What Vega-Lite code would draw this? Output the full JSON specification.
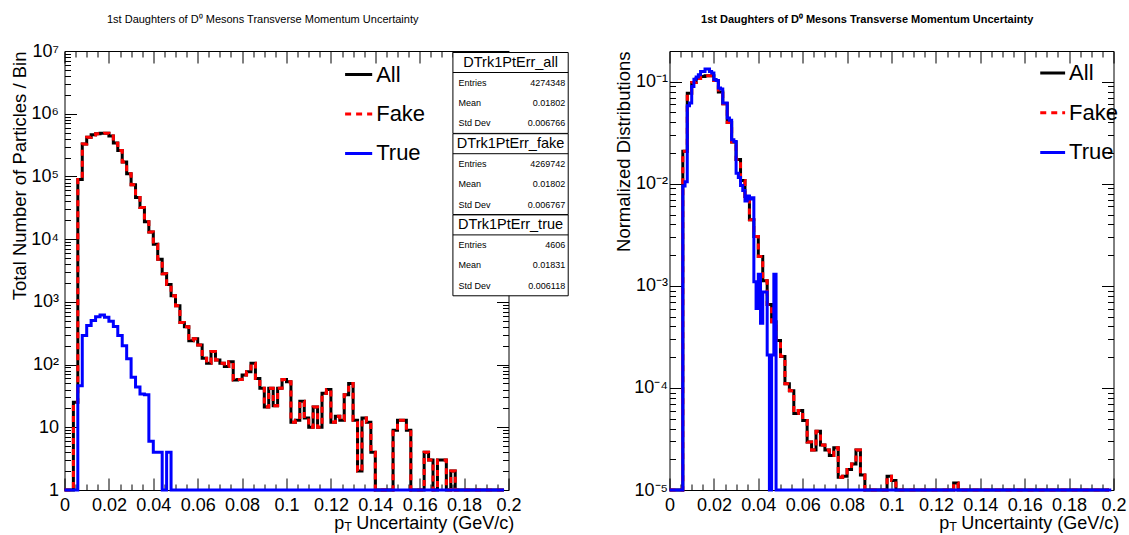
{
  "$schema": "https://vega.github.io/schema/vega-lite/v6.json",
  "background": "white",
  "padding": {"left": 10.5, "top": 14, "right": 4, "bottom": 1},
  "spacing": 161,
  "bounds": "flush",
  "config": {
    "font": "Liberation Sans",
    "view": {"stroke": null},
    "text": {"font": "Liberation Sans", "color": "black"},
    "axis": {
      "grid": false, "domainColor": "black", "domainWidth": 1, "tickColor": "black", "tickWidth": 1,
      "labelFont": "Liberation Sans", "labelFontSize": 18, "labelColor": "black",
      "titleFont": "Liberation Sans", "titleFontSize": 18.5, "titleFontWeight": "normal", "titleColor": "black",
      "labelOverlap": false, "labelFlush": false
    }
  },
  "datasets": {
    "counts": [
      {"pt":0,"n_all":0,"n_fake":0,"n_true":0},
      {"pt":0.002,"n_all":0,"n_fake":0,"n_true":0},
      {"pt":0.004,"n_all":25,"n_fake":25,"n_true":0},
      {"pt":0.006,"n_all":89000,"n_fake":88954,"n_true":46},
      {"pt":0.008,"n_all":330000,"n_fake":329710,"n_true":290},
      {"pt":0.01,"n_all":420000,"n_fake":419580,"n_true":420},
      {"pt":0.012,"n_all":460000,"n_fake":459495,"n_true":505},
      {"pt":0.014,"n_all":480000,"n_fake":479420,"n_true":580},
      {"pt":0.016,"n_all":490000,"n_fake":489380,"n_true":620},
      {"pt":0.018,"n_all":490000,"n_fake":489430,"n_true":570},
      {"pt":0.02,"n_all":440000,"n_fake":439510,"n_true":490},
      {"pt":0.022,"n_all":340000,"n_fake":339595,"n_true":405},
      {"pt":0.024,"n_all":260000,"n_fake":259710,"n_true":290},
      {"pt":0.026,"n_all":170000,"n_fake":169800,"n_true":200},
      {"pt":0.028,"n_all":110000,"n_fake":109876,"n_true":124},
      {"pt":0.03,"n_all":74000,"n_fake":73937,"n_true":63},
      {"pt":0.032,"n_all":46000,"n_fake":45956,"n_true":44},
      {"pt":0.034,"n_all":32000,"n_fake":31966,"n_true":34},
      {"pt":0.036,"n_all":19000,"n_fake":18967,"n_true":33},
      {"pt":0.038,"n_all":13000,"n_fake":12994,"n_true":6},
      {"pt":0.04,"n_all":8300,"n_fake":8296,"n_true":4},
      {"pt":0.042,"n_all":4800,"n_fake":4796,"n_true":4},
      {"pt":0.044,"n_all":2800,"n_fake":2800,"n_true":0},
      {"pt":0.046,"n_all":1900,"n_fake":1896,"n_true":4},
      {"pt":0.048,"n_all":1250,"n_fake":1250,"n_true":0},
      {"pt":0.05,"n_all":870,"n_fake":870,"n_true":0},
      {"pt":0.052,"n_all":470,"n_fake":470,"n_true":0},
      {"pt":0.054,"n_all":400,"n_fake":400,"n_true":0},
      {"pt":0.056,"n_all":240,"n_fake":240,"n_true":0},
      {"pt":0.058,"n_all":257,"n_fake":257,"n_true":0},
      {"pt":0.06,"n_all":205,"n_fake":205,"n_true":0},
      {"pt":0.062,"n_all":126,"n_fake":126,"n_true":0},
      {"pt":0.064,"n_all":105,"n_fake":105,"n_true":0},
      {"pt":0.066,"n_all":161,"n_fake":161,"n_true":0},
      {"pt":0.068,"n_all":118,"n_fake":118,"n_true":0},
      {"pt":0.07,"n_all":105,"n_fake":105,"n_true":0},
      {"pt":0.072,"n_all":93,"n_fake":93,"n_true":0},
      {"pt":0.074,"n_all":111,"n_fake":111,"n_true":0},
      {"pt":0.076,"n_all":57,"n_fake":57,"n_true":0},
      {"pt":0.078,"n_all":58,"n_fake":58,"n_true":0},
      {"pt":0.08,"n_all":68,"n_fake":68,"n_true":0},
      {"pt":0.082,"n_all":77,"n_fake":77,"n_true":0},
      {"pt":0.084,"n_all":105,"n_fake":105,"n_true":0},
      {"pt":0.086,"n_all":60,"n_fake":60,"n_true":0},
      {"pt":0.088,"n_all":42,"n_fake":42,"n_true":0},
      {"pt":0.09,"n_all":21,"n_fake":21,"n_true":0},
      {"pt":0.092,"n_all":42,"n_fake":42,"n_true":0},
      {"pt":0.094,"n_all":22,"n_fake":22,"n_true":0},
      {"pt":0.096,"n_all":42,"n_fake":42,"n_true":0},
      {"pt":0.098,"n_all":58,"n_fake":58,"n_true":0},
      {"pt":0.1,"n_all":53,"n_fake":53,"n_true":0},
      {"pt":0.102,"n_all":12,"n_fake":12,"n_true":0},
      {"pt":0.104,"n_all":13,"n_fake":13,"n_true":0},
      {"pt":0.106,"n_all":26,"n_fake":26,"n_true":0},
      {"pt":0.108,"n_all":14,"n_fake":14,"n_true":0},
      {"pt":0.11,"n_all":10,"n_fake":10,"n_true":0},
      {"pt":0.112,"n_all":21,"n_fake":21,"n_true":0},
      {"pt":0.114,"n_all":10,"n_fake":10,"n_true":0},
      {"pt":0.116,"n_all":35,"n_fake":35,"n_true":0},
      {"pt":0.118,"n_all":40,"n_fake":40,"n_true":0},
      {"pt":0.12,"n_all":12,"n_fake":12,"n_true":0},
      {"pt":0.122,"n_all":15,"n_fake":15,"n_true":0},
      {"pt":0.124,"n_all":13,"n_fake":13,"n_true":0},
      {"pt":0.126,"n_all":33,"n_fake":33,"n_true":0},
      {"pt":0.128,"n_all":50,"n_fake":50,"n_true":0},
      {"pt":0.13,"n_all":13,"n_fake":13,"n_true":0},
      {"pt":0.132,"n_all":2,"n_fake":2,"n_true":0},
      {"pt":0.134,"n_all":14,"n_fake":14,"n_true":0},
      {"pt":0.136,"n_all":12,"n_fake":12,"n_true":0},
      {"pt":0.138,"n_all":4,"n_fake":4,"n_true":0},
      {"pt":0.14,"n_all":0,"n_fake":0,"n_true":0},
      {"pt":0.142,"n_all":0,"n_fake":0,"n_true":0},
      {"pt":0.144,"n_all":0,"n_fake":0,"n_true":0},
      {"pt":0.146,"n_all":0,"n_fake":0,"n_true":0},
      {"pt":0.148,"n_all":9,"n_fake":9,"n_true":0},
      {"pt":0.15,"n_all":13,"n_fake":13,"n_true":0},
      {"pt":0.152,"n_all":13,"n_fake":13,"n_true":0},
      {"pt":0.154,"n_all":9,"n_fake":9,"n_true":0},
      {"pt":0.156,"n_all":0,"n_fake":0,"n_true":0},
      {"pt":0.158,"n_all":0,"n_fake":0,"n_true":0},
      {"pt":0.16,"n_all":0,"n_fake":0,"n_true":0},
      {"pt":0.162,"n_all":4,"n_fake":4,"n_true":0},
      {"pt":0.164,"n_all":3,"n_fake":3,"n_true":0},
      {"pt":0.166,"n_all":0,"n_fake":0,"n_true":0},
      {"pt":0.168,"n_all":3,"n_fake":3,"n_true":0},
      {"pt":0.17,"n_all":3,"n_fake":3,"n_true":0},
      {"pt":0.172,"n_all":0,"n_fake":0,"n_true":0},
      {"pt":0.174,"n_all":2,"n_fake":2,"n_true":0},
      {"pt":0.176,"n_all":0,"n_fake":0,"n_true":0},
      {"pt":0.178,"n_all":0,"n_fake":0,"n_true":0},
      {"pt":0.18,"n_all":0,"n_fake":0,"n_true":0},
      {"pt":0.182,"n_all":0,"n_fake":0,"n_true":0},
      {"pt":0.184,"n_all":0,"n_fake":0,"n_true":0},
      {"pt":0.186,"n_all":0,"n_fake":0,"n_true":0},
      {"pt":0.188,"n_all":0,"n_fake":0,"n_true":0},
      {"pt":0.19,"n_all":0,"n_fake":0,"n_true":0},
      {"pt":0.192,"n_all":0,"n_fake":0,"n_true":0},
      {"pt":0.194,"n_all":0,"n_fake":0,"n_true":0},
      {"pt":0.196,"n_all":0,"n_fake":0,"n_true":0},
      {"pt":0.198,"n_all":0,"n_fake":0,"n_true":0}
    ],
    "norm": [
      {"pt":0,"f_all":0,"f_fake":0},
      {"pt":0.002,"f_all":0,"f_fake":0},
      {"pt":0.004,"f_all":5.85e-6,"f_fake":5.86e-6},
      {"pt":0.006,"f_all":0.0208,"f_fake":0.0208},
      {"pt":0.008,"f_all":0.0772,"f_fake":0.0772},
      {"pt":0.01,"f_all":0.0983,"f_fake":0.0983},
      {"pt":0.012,"f_all":0.1076,"f_fake":0.1076},
      {"pt":0.014,"f_all":0.1123,"f_fake":0.1123},
      {"pt":0.016,"f_all":0.1146,"f_fake":0.1146},
      {"pt":0.018,"f_all":0.1146,"f_fake":0.1146},
      {"pt":0.02,"f_all":0.1029,"f_fake":0.1029},
      {"pt":0.022,"f_all":0.0795,"f_fake":0.0795},
      {"pt":0.024,"f_all":0.0608,"f_fake":0.0608},
      {"pt":0.026,"f_all":0.0398,"f_fake":0.0398},
      {"pt":0.028,"f_all":0.0257,"f_fake":0.0257},
      {"pt":0.03,"f_all":0.0173,"f_fake":0.0173},
      {"pt":0.032,"f_all":0.01076,"f_fake":0.01076},
      {"pt":0.034,"f_all":0.00749,"f_fake":0.00749},
      {"pt":0.036,"f_all":0.00445,"f_fake":0.00444},
      {"pt":0.038,"f_all":0.00304,"f_fake":0.00304},
      {"pt":0.04,"f_all":0.00194,"f_fake":0.00194},
      {"pt":0.042,"f_all":0.001123,"f_fake":0.001123},
      {"pt":0.044,"f_all":0.000655,"f_fake":0.000656},
      {"pt":0.046,"f_all":0.000445,"f_fake":0.000444},
      {"pt":0.048,"f_all":0.000292,"f_fake":0.000293},
      {"pt":0.05,"f_all":0.0002035,"f_fake":0.0002038},
      {"pt":0.052,"f_all":0.00011,"f_fake":0.00011},
      {"pt":0.054,"f_all":9.36e-5,"f_fake":9.37e-5},
      {"pt":0.056,"f_all":5.61e-5,"f_fake":5.62e-5},
      {"pt":0.058,"f_all":6.01e-5,"f_fake":6.02e-5},
      {"pt":0.06,"f_all":4.8e-5,"f_fake":4.8e-5},
      {"pt":0.062,"f_all":2.95e-5,"f_fake":2.95e-5},
      {"pt":0.064,"f_all":2.46e-5,"f_fake":2.46e-5},
      {"pt":0.066,"f_all":3.77e-5,"f_fake":3.77e-5},
      {"pt":0.068,"f_all":2.76e-5,"f_fake":2.76e-5},
      {"pt":0.07,"f_all":2.46e-5,"f_fake":2.46e-5},
      {"pt":0.072,"f_all":2.18e-5,"f_fake":2.18e-5},
      {"pt":0.074,"f_all":2.6e-5,"f_fake":2.6e-5},
      {"pt":0.076,"f_all":1.33e-5,"f_fake":1.33e-5},
      {"pt":0.078,"f_all":1.36e-5,"f_fake":1.36e-5},
      {"pt":0.08,"f_all":1.59e-5,"f_fake":1.59e-5},
      {"pt":0.082,"f_all":1.8e-5,"f_fake":1.8e-5},
      {"pt":0.084,"f_all":2.46e-5,"f_fake":2.46e-5},
      {"pt":0.086,"f_all":1.4e-5,"f_fake":1.4e-5},
      {"pt":0.088,"f_all":9.83e-6,"f_fake":9.84e-6},
      {"pt":0.09,"f_all":4.91e-6,"f_fake":4.92e-6},
      {"pt":0.092,"f_all":9.83e-6,"f_fake":9.84e-6},
      {"pt":0.094,"f_all":5.15e-6,"f_fake":5.15e-6},
      {"pt":0.096,"f_all":9.83e-6,"f_fake":9.84e-6},
      {"pt":0.098,"f_all":1.36e-5,"f_fake":1.36e-5},
      {"pt":0.1,"f_all":1.24e-5,"f_fake":1.24e-5},
      {"pt":0.102,"f_all":2.81e-6,"f_fake":2.81e-6},
      {"pt":0.104,"f_all":3.04e-6,"f_fake":3.04e-6},
      {"pt":0.106,"f_all":6.08e-6,"f_fake":6.09e-6},
      {"pt":0.108,"f_all":3.28e-6,"f_fake":3.28e-6},
      {"pt":0.11,"f_all":2.34e-6,"f_fake":2.34e-6},
      {"pt":0.112,"f_all":4.91e-6,"f_fake":4.92e-6},
      {"pt":0.114,"f_all":2.34e-6,"f_fake":2.34e-6},
      {"pt":0.116,"f_all":8.19e-6,"f_fake":8.2e-6},
      {"pt":0.118,"f_all":9.36e-6,"f_fake":9.37e-6},
      {"pt":0.12,"f_all":2.81e-6,"f_fake":2.81e-6},
      {"pt":0.122,"f_all":3.51e-6,"f_fake":3.51e-6},
      {"pt":0.124,"f_all":3.04e-6,"f_fake":3.04e-6},
      {"pt":0.126,"f_all":7.72e-6,"f_fake":7.73e-6},
      {"pt":0.128,"f_all":1.17e-5,"f_fake":1.17e-5},
      {"pt":0.13,"f_all":3.04e-6,"f_fake":3.04e-6},
      {"pt":0.132,"f_all":4.68e-7,"f_fake":4.68e-7},
      {"pt":0.134,"f_all":3.28e-6,"f_fake":3.28e-6},
      {"pt":0.136,"f_all":2.81e-6,"f_fake":2.81e-6},
      {"pt":0.138,"f_all":9.36e-7,"f_fake":9.37e-7},
      {"pt":0.14,"f_all":0,"f_fake":0},
      {"pt":0.142,"f_all":0,"f_fake":0},
      {"pt":0.144,"f_all":0,"f_fake":0},
      {"pt":0.146,"f_all":0,"f_fake":0},
      {"pt":0.148,"f_all":2.11e-6,"f_fake":2.11e-6},
      {"pt":0.15,"f_all":3.04e-6,"f_fake":3.04e-6},
      {"pt":0.152,"f_all":3.04e-6,"f_fake":3.04e-6},
      {"pt":0.154,"f_all":2.11e-6,"f_fake":2.11e-6},
      {"pt":0.156,"f_all":0,"f_fake":0},
      {"pt":0.158,"f_all":0,"f_fake":0},
      {"pt":0.16,"f_all":0,"f_fake":0},
      {"pt":0.162,"f_all":9.36e-7,"f_fake":9.37e-7},
      {"pt":0.164,"f_all":7.02e-7,"f_fake":7.03e-7},
      {"pt":0.166,"f_all":0,"f_fake":0},
      {"pt":0.168,"f_all":7.02e-7,"f_fake":7.03e-7},
      {"pt":0.17,"f_all":7.02e-7,"f_fake":7.03e-7},
      {"pt":0.172,"f_all":0,"f_fake":0},
      {"pt":0.174,"f_all":4.68e-7,"f_fake":4.68e-7},
      {"pt":0.176,"f_all":0,"f_fake":0},
      {"pt":0.178,"f_all":0,"f_fake":0},
      {"pt":0.18,"f_all":0,"f_fake":0},
      {"pt":0.182,"f_all":0,"f_fake":0},
      {"pt":0.184,"f_all":0,"f_fake":0},
      {"pt":0.186,"f_all":0,"f_fake":0},
      {"pt":0.188,"f_all":0,"f_fake":0},
      {"pt":0.19,"f_all":0,"f_fake":0},
      {"pt":0.192,"f_all":0,"f_fake":0},
      {"pt":0.194,"f_all":0,"f_fake":0},
      {"pt":0.196,"f_all":0,"f_fake":0},
      {"pt":0.198,"f_all":0,"f_fake":0}
    ],
    "normTrue": [
      {"pt":0,"f_true":0},{"pt":0.001,"f_true":0},{"pt":0.002,"f_true":0},{"pt":0.003,"f_true":0},{"pt":0.004,"f_true":0},{"pt":0.005,"f_true":0},
      {"pt":0.006,"f_true":0.0095},{"pt":0.007,"f_true":0.0105},{"pt":0.008,"f_true":0.058},{"pt":0.009,"f_true":0.062},
      {"pt":0.01,"f_true":0.09},{"pt":0.011,"f_true":0.106},{"pt":0.012,"f_true":0.111},{"pt":0.013,"f_true":0.117},
      {"pt":0.014,"f_true":0.126},{"pt":0.015,"f_true":0.126},{"pt":0.016,"f_true":0.133},{"pt":0.017,"f_true":0.133},
      {"pt":0.018,"f_true":0.126},{"pt":0.019,"f_true":0.122},{"pt":0.02,"f_true":0.105},{"pt":0.021,"f_true":0.103},
      {"pt":0.022,"f_true":0.087},{"pt":0.023,"f_true":0.085},{"pt":0.024,"f_true":0.062},{"pt":0.025,"f_true":0.062},
      {"pt":0.026,"f_true":0.044},{"pt":0.027,"f_true":0.042},{"pt":0.028,"f_true":0.027},{"pt":0.029,"f_true":0.026},
      {"pt":0.03,"f_true":0.0127},{"pt":0.031,"f_true":0.0115},{"pt":0.032,"f_true":0.0096},{"pt":0.033,"f_true":0.0086},
      {"pt":0.034,"f_true":0.0068},{"pt":0.035,"f_true":0.0076},{"pt":0.036,"f_true":0.0071},{"pt":0.037,"f_true":0.0073},
      {"pt":0.038,"f_true":0.0011},{"pt":0.039,"f_true":0.0006},{"pt":0.04,"f_true":0.0013},{"pt":0.041,"f_true":0.00043},
      {"pt":0.042,"f_true":0.00087},{"pt":0.043,"f_true":0.00087},{"pt":0.044,"f_true":0.00021},{"pt":0.045,"f_true":0},
      {"pt":0.046,"f_true":0.00021},{"pt":0.047,"f_true":0.0013},{"pt":0.048,"f_true":0},{"pt":0.049,"f_true":0},
      {"pt":0.05,"f_true":0},{"pt":0.051,"f_true":0},{"pt":0.052,"f_true":0},{"pt":0.053,"f_true":0},{"pt":0.054,"f_true":0},
      {"pt":0.055,"f_true":0},{"pt":0.056,"f_true":0},{"pt":0.057,"f_true":0},{"pt":0.058,"f_true":0},{"pt":0.059,"f_true":0},
      {"pt":0.06,"f_true":0},{"pt":0.061,"f_true":0},{"pt":0.062,"f_true":0},{"pt":0.063,"f_true":0},{"pt":0.064,"f_true":0},
      {"pt":0.065,"f_true":0},{"pt":0.066,"f_true":0},{"pt":0.067,"f_true":0},{"pt":0.068,"f_true":0},{"pt":0.069,"f_true":0},
      {"pt":0.07,"f_true":0},{"pt":0.071,"f_true":0},{"pt":0.072,"f_true":0},{"pt":0.073,"f_true":0},{"pt":0.074,"f_true":0},
      {"pt":0.075,"f_true":0},{"pt":0.076,"f_true":0},{"pt":0.077,"f_true":0},{"pt":0.078,"f_true":0},{"pt":0.079,"f_true":0},
      {"pt":0.08,"f_true":0},{"pt":0.081,"f_true":0},{"pt":0.082,"f_true":0},{"pt":0.083,"f_true":0},{"pt":0.084,"f_true":0},
      {"pt":0.085,"f_true":0},{"pt":0.086,"f_true":0},{"pt":0.087,"f_true":0},{"pt":0.088,"f_true":0},{"pt":0.089,"f_true":0},
      {"pt":0.09,"f_true":0},{"pt":0.091,"f_true":0},{"pt":0.092,"f_true":0},{"pt":0.093,"f_true":0},{"pt":0.094,"f_true":0},
      {"pt":0.095,"f_true":0},{"pt":0.096,"f_true":0},{"pt":0.097,"f_true":0},{"pt":0.098,"f_true":0},{"pt":0.099,"f_true":0},
      {"pt":0.1,"f_true":0},{"pt":0.101,"f_true":0},{"pt":0.102,"f_true":0},{"pt":0.103,"f_true":0},{"pt":0.104,"f_true":0},
      {"pt":0.105,"f_true":0},{"pt":0.106,"f_true":0},{"pt":0.107,"f_true":0},{"pt":0.108,"f_true":0},{"pt":0.109,"f_true":0},
      {"pt":0.11,"f_true":0},{"pt":0.111,"f_true":0},{"pt":0.112,"f_true":0},{"pt":0.113,"f_true":0},{"pt":0.114,"f_true":0},
      {"pt":0.115,"f_true":0},{"pt":0.116,"f_true":0},{"pt":0.117,"f_true":0},{"pt":0.118,"f_true":0},{"pt":0.119,"f_true":0},
      {"pt":0.12,"f_true":0},{"pt":0.121,"f_true":0},{"pt":0.122,"f_true":0},{"pt":0.123,"f_true":0},{"pt":0.124,"f_true":0},
      {"pt":0.125,"f_true":0},{"pt":0.126,"f_true":0},{"pt":0.127,"f_true":0},{"pt":0.128,"f_true":0},{"pt":0.129,"f_true":0},
      {"pt":0.13,"f_true":0},{"pt":0.131,"f_true":0},{"pt":0.132,"f_true":0},{"pt":0.133,"f_true":0},{"pt":0.134,"f_true":0},
      {"pt":0.135,"f_true":0},{"pt":0.136,"f_true":0},{"pt":0.137,"f_true":0},{"pt":0.138,"f_true":0},{"pt":0.139,"f_true":0},
      {"pt":0.14,"f_true":0},{"pt":0.141,"f_true":0},{"pt":0.142,"f_true":0},{"pt":0.143,"f_true":0},{"pt":0.144,"f_true":0},
      {"pt":0.145,"f_true":0},{"pt":0.146,"f_true":0},{"pt":0.147,"f_true":0},{"pt":0.148,"f_true":0},{"pt":0.149,"f_true":0},
      {"pt":0.15,"f_true":0},{"pt":0.151,"f_true":0},{"pt":0.152,"f_true":0},{"pt":0.153,"f_true":0},{"pt":0.154,"f_true":0},
      {"pt":0.155,"f_true":0},{"pt":0.156,"f_true":0},{"pt":0.157,"f_true":0},{"pt":0.158,"f_true":0},{"pt":0.159,"f_true":0},
      {"pt":0.16,"f_true":0},{"pt":0.161,"f_true":0},{"pt":0.162,"f_true":0},{"pt":0.163,"f_true":0},{"pt":0.164,"f_true":0},
      {"pt":0.165,"f_true":0},{"pt":0.166,"f_true":0},{"pt":0.167,"f_true":0},{"pt":0.168,"f_true":0},{"pt":0.169,"f_true":0},
      {"pt":0.17,"f_true":0},{"pt":0.171,"f_true":0},{"pt":0.172,"f_true":0},{"pt":0.173,"f_true":0},{"pt":0.174,"f_true":0},
      {"pt":0.175,"f_true":0},{"pt":0.176,"f_true":0},{"pt":0.177,"f_true":0},{"pt":0.178,"f_true":0},{"pt":0.179,"f_true":0},
      {"pt":0.18,"f_true":0},{"pt":0.181,"f_true":0},{"pt":0.182,"f_true":0},{"pt":0.183,"f_true":0},{"pt":0.184,"f_true":0},
      {"pt":0.185,"f_true":0},{"pt":0.186,"f_true":0},{"pt":0.187,"f_true":0},{"pt":0.188,"f_true":0},{"pt":0.189,"f_true":0},
      {"pt":0.19,"f_true":0},{"pt":0.191,"f_true":0},{"pt":0.192,"f_true":0},{"pt":0.193,"f_true":0},{"pt":0.194,"f_true":0},
      {"pt":0.195,"f_true":0},{"pt":0.196,"f_true":0},{"pt":0.197,"f_true":0},{"pt":0.198,"f_true":0},{"pt":0.199,"f_true":0}
    ],
    "stats": [
      {"line":0,"box":"all","kind":"title","key":"DTrk1PtErr_all","val":""},
      {"line":1,"box":"all","kind":"row","key":"Entries","val":"4274348"},
      {"line":2,"box":"all","kind":"row","key":"Mean","val":"0.01802"},
      {"line":3,"box":"all","kind":"row","key":"Std Dev","val":"0.006766"},
      {"line":4,"box":"fake","kind":"title","key":"DTrk1PtErr_fake","val":""},
      {"line":5,"box":"fake","kind":"row","key":"Entries","val":"4269742"},
      {"line":6,"box":"fake","kind":"row","key":"Mean","val":"0.01802"},
      {"line":7,"box":"fake","kind":"row","key":"Std Dev","val":"0.006767"},
      {"line":8,"box":"true","kind":"title","key":"DTrk1PtErr_true","val":""},
      {"line":9,"box":"true","kind":"row","key":"Entries","val":"4606"},
      {"line":10,"box":"true","kind":"row","key":"Mean","val":"0.01831"},
      {"line":11,"box":"true","kind":"row","key":"Std Dev","val":"0.006118"}
    ],
    "entries": [
      {"idx":0,"series":"All"},
      {"idx":1,"series":"Fake"},
      {"idx":2,"series":"True"}
    ]
  },
  "hconcat": [
    {
      "width": 444,
      "height": 439,
      "resolve": {"scale": {"x": "independent", "y": "independent"}},
      "layer": [
        {
          "layer": [
            {
              "data": {"name": "counts"},
              "mark": {"type": "line", "interpolate": "step-after", "color": "#000000", "strokeWidth": 3},
              "encoding": {
                "x": {"field": "pt", "type": "quantitative", "scale": {"domain": [0, 0.2], "nice": false, "zero": false},
                  "axis": {"orient": "bottom", "title": null, "labelPadding": 18,
                    "values": [0,0.005,0.01,0.015,0.02,0.025,0.03,0.035,0.04,0.045,0.05,0.055,0.06,0.065,0.07,0.075,0.08,0.085,0.09,0.095,0.1,0.105,0.11,0.115,0.12,0.125,0.13,0.135,0.14,0.145,0.15,0.155,0.16,0.165,0.17,0.175,0.18,0.185,0.19,0.195,0.2],
                    "labelExpr": "abs(datum.value*50-round(datum.value*50))<0.001 ? format(datum.value,'.2~f') : ''",
                    "tickSize": {"condition": {"test": "abs(datum.value*50-round(datum.value*50))<0.001", "value": -12}, "value": -6}}},
                "y": {"field": "n_all", "type": "quantitative", "scale": {"type": "log", "domain": [1, 10000000], "clamp": true, "nice": false},
                  "axis": {"orient": "left", "title": "Total Number of Particles / Bin", "titleAnchor": "end", "titlePadding": 1, "labelPadding": 18,
                    "values": [1,2,3,4,5,6,7,8,9,10,20,30,40,50,60,70,80,90,100,200,300,400,500,600,700,800,900,1000,2000,3000,4000,5000,6000,7000,8000,9000,10000,20000,30000,40000,50000,60000,70000,80000,90000,100000,200000,300000,400000,500000,600000,700000,800000,900000,1000000,2000000,3000000,4000000,5000000,6000000,7000000,8000000,9000000,10000000],
                    "labelExpr": "abs(log(datum.value)/LN10-round(log(datum.value)/LN10))<0.001 ? ['1','10','10²','10³','10⁴','10⁵','10⁶','10⁷'][round(log(datum.value)/LN10)] : ''",
                    "tickSize": {"condition": {"test": "abs(log(datum.value)/LN10-round(log(datum.value)/LN10))<0.001", "value": -12}, "value": -6}}}
              }
            },
            {
              "data": {"name": "counts"},
              "mark": {"type": "line", "interpolate": "step-after", "color": "#ff0000", "strokeWidth": 3, "strokeDash": [6, 5]},
              "encoding": {
                "x": {"field": "pt", "type": "quantitative",
                  "axis": {"orient": "top", "title": null, "labels": false,
                    "values": [0,0.005,0.01,0.015,0.02,0.025,0.03,0.035,0.04,0.045,0.05,0.055,0.06,0.065,0.07,0.075,0.08,0.085,0.09,0.095,0.1,0.105,0.11,0.115,0.12,0.125,0.13,0.135,0.14,0.145,0.15,0.155,0.16,0.165,0.17,0.175,0.18,0.185,0.19,0.195,0.2],
                    "tickSize": {"condition": {"test": "abs(datum.value*50-round(datum.value*50))<0.001", "value": -12}, "value": -6}}},
                "y": {"field": "n_fake", "type": "quantitative",
                  "axis": {"orient": "right", "title": null, "labels": false,
                    "values": [1,2,3,4,5,6,7,8,9,10,20,30,40,50,60,70,80,90,100,200,300,400,500,600,700,800,900,1000,2000,3000,4000,5000,6000,7000,8000,9000,10000,20000,30000,40000,50000,60000,70000,80000,90000,100000,200000,300000,400000,500000,600000,700000,800000,900000,1000000,2000000,3000000,4000000,5000000,6000000,7000000,8000000,9000000,10000000],
                    "tickSize": {"condition": {"test": "abs(log(datum.value)/LN10-round(log(datum.value)/LN10))<0.001", "value": -12}, "value": -6}}}
              }
            },
            {
              "data": {"name": "counts"},
              "mark": {"type": "line", "interpolate": "step-after", "color": "#0000ff", "strokeWidth": 3},
              "encoding": {
                "x": {"field": "pt", "type": "quantitative", "axis": null},
                "y": {"field": "n_true", "type": "quantitative", "axis": null}
              }
            }
          ]
        },
        {
          "data": {"name": "stats"},
          "layer": [
            {
              "mark": {"type": "rect", "fill": "white", "stroke": "black", "strokeWidth": 1, "yOffset": -10, "y2Offset": 10},
              "encoding": {
                "x": {"datum": 0.8748, "type": "quantitative", "scale": {"domain": [0, 1]}, "axis": null},
                "x2": {"datum": 1.1345},
                "y": {"aggregate": "min", "field": "line", "type": "quantitative", "scale": {"domain": [-0.567, 21.06], "reverse": true}, "axis": null},
                "y2": {"aggregate": "max", "field": "line"},
                "detail": {"field": "box", "type": "nominal"}
              }
            },
            {
              "transform": [{"filter": "datum.kind == 'title'"}],
              "mark": {"type": "rule", "color": "black", "strokeWidth": 1, "yOffset": 10},
              "encoding": {
                "x": {"datum": 0.8748, "type": "quantitative", "scale": {"domain": [0, 1]}, "axis": null},
                "x2": {"datum": 1.1345},
                "y": {"field": "line", "type": "quantitative", "scale": {"domain": [-0.567, 21.06], "reverse": true}, "axis": null}
              }
            },
            {
              "transform": [{"filter": "datum.kind == 'title'"}],
              "mark": {"type": "text", "align": "center", "baseline": "middle", "fontSize": 14.5},
              "encoding": {
                "x": {"datum": 1.0047, "type": "quantitative", "scale": {"domain": [0, 1]}, "axis": null},
                "y": {"field": "line", "type": "quantitative", "scale": {"domain": [-0.567, 21.06], "reverse": true}, "axis": null},
                "text": {"field": "key"}
              }
            },
            {
              "transform": [{"filter": "datum.kind == 'row'"}],
              "mark": {"type": "text", "align": "left", "baseline": "middle", "fontSize": 9},
              "encoding": {
                "x": {"datum": 0.8874, "type": "quantitative", "scale": {"domain": [0, 1]}, "axis": null},
                "y": {"field": "line", "type": "quantitative", "scale": {"domain": [-0.567, 21.06], "reverse": true}, "axis": null},
                "text": {"field": "key"}
              }
            },
            {
              "transform": [{"filter": "datum.kind == 'row'"}],
              "mark": {"type": "text", "align": "right", "baseline": "middle", "fontSize": 9},
              "encoding": {
                "x": {"datum": 1.1277, "type": "quantitative", "scale": {"domain": [0, 1]}, "axis": null},
                "y": {"field": "line", "type": "quantitative", "scale": {"domain": [-0.567, 21.06], "reverse": true}, "axis": null},
                "text": {"field": "val"}
              }
            }
          ]
        },
        {
          "data": {"name": "entries"},
          "layer": [
            {
              "mark": {"type": "rule", "strokeWidth": 3},
              "encoding": {
                "x": {"datum": 0.632, "type": "quantitative", "scale": {"domain": [0, 1]}, "axis": null},
                "x2": {"datum": 0.693},
                "y": {"field": "idx", "type": "quantitative", "scale": {"domain": [-0.595, 10.52], "reverse": true}, "axis": null},
                "color": {"field": "series", "type": "nominal", "scale": {"domain": ["All", "Fake", "True"], "range": ["#000000", "#ff0000", "#0000ff"]}, "legend": null},
                "strokeDash": {"field": "series", "type": "nominal", "scale": {"domain": ["All", "Fake", "True"], "range": [[1, 0], [6, 5], [1, 0]]}, "legend": null}
              }
            },
            {
              "mark": {"type": "text", "align": "left", "baseline": "middle", "fontSize": 22},
              "encoding": {
                "x": {"datum": 0.702, "type": "quantitative", "scale": {"domain": [0, 1]}, "axis": null},
                "y": {"field": "idx", "type": "quantitative", "scale": {"domain": [-0.595, 10.52], "reverse": true}, "axis": null},
                "text": {"field": "series"}
              }
            }
          ]
        },
        {
          "data": {"values": [{}]},
          "layer": [
            {
              "mark": {"type": "text", "text": "1st Daughters of D⁰ Mesons Transverse Momentum Uncertainty", "fontSize": 11, "align": "center", "baseline": "middle"},
              "encoding": {
                "x": {"datum": 0.4464, "type": "quantitative", "scale": {"domain": [0, 1]}, "axis": null},
                "y": {"datum": 1.0706, "type": "quantitative", "scale": {"domain": [0, 1]}, "axis": null}
              }
            },
            {
              "mark": {"type": "text", "text": "p", "fontSize": 18, "align": "right", "baseline": "middle"},
              "encoding": {
                "x": {"datum": 0.63, "type": "quantitative", "scale": {"domain": [0, 1]}, "axis": null},
                "y": {"datum": -0.0775, "type": "quantitative", "scale": {"domain": [0, 1]}, "axis": null}
              }
            },
            {
              "mark": {"type": "text", "text": "T", "fontSize": 12.5, "align": "left", "baseline": "middle"},
              "encoding": {
                "x": {"datum": 0.63, "type": "quantitative", "scale": {"domain": [0, 1]}, "axis": null},
                "y": {"datum": -0.0854, "type": "quantitative", "scale": {"domain": [0, 1]}, "axis": null}
              }
            },
            {
              "mark": {"type": "text", "text": "Uncertainty (GeV/c)", "fontSize": 18, "align": "right", "baseline": "middle"},
              "encoding": {
                "x": {"datum": 1.0128, "type": "quantitative", "scale": {"domain": [0, 1]}, "axis": null},
                "y": {"datum": -0.0775, "type": "quantitative", "scale": {"domain": [0, 1]}, "axis": null}
              }
            }
          ]
        }
      ]
    },
    {
      "width": 444,
      "height": 439,
      "resolve": {"scale": {"x": "independent", "y": "independent"}},
      "layer": [
        {
          "layer": [
            {
              "data": {"name": "norm"},
              "mark": {"type": "line", "interpolate": "step-after", "color": "#000000", "strokeWidth": 3},
              "encoding": {
                "x": {"field": "pt", "type": "quantitative", "scale": {"domain": [0, 0.2], "nice": false, "zero": false},
                  "axis": {"orient": "bottom", "title": null, "labelPadding": 18,
                    "values": [0,0.005,0.01,0.015,0.02,0.025,0.03,0.035,0.04,0.045,0.05,0.055,0.06,0.065,0.07,0.075,0.08,0.085,0.09,0.095,0.1,0.105,0.11,0.115,0.12,0.125,0.13,0.135,0.14,0.145,0.15,0.155,0.16,0.165,0.17,0.175,0.18,0.185,0.19,0.195,0.2],
                    "labelExpr": "abs(datum.value*50-round(datum.value*50))<0.001 ? format(datum.value,'.2~f') : ''",
                    "tickSize": {"condition": {"test": "abs(datum.value*50-round(datum.value*50))<0.001", "value": -12}, "value": -6}}},
                "y": {"field": "f_all", "type": "quantitative", "scale": {"type": "log", "domain": [0.00001, 0.2], "clamp": true, "nice": false},
                  "axis": {"orient": "left", "title": "Normalized Distributions", "titleAnchor": "end", "titlePadding": 0, "labelPadding": 14,
                    "values": [1e-5,2e-5,3e-5,4e-5,5e-5,6e-5,7e-5,8e-5,9e-5,1e-4,2e-4,3e-4,4e-4,5e-4,6e-4,7e-4,8e-4,9e-4,0.001,0.002,0.003,0.004,0.005,0.006,0.007,0.008,0.009,0.01,0.02,0.03,0.04,0.05,0.06,0.07,0.08,0.09,0.1],
                    "labelExpr": "abs(log(datum.value)/LN10-round(log(datum.value)/LN10))<0.001 ? ['10⁻⁵','10⁻⁴','10⁻³','10⁻²','10⁻¹'][round(log(datum.value)/LN10)+5] : ''",
                    "tickSize": {"condition": {"test": "abs(log(datum.value)/LN10-round(log(datum.value)/LN10))<0.001", "value": -12}, "value": -6}}}
              }
            },
            {
              "data": {"name": "norm"},
              "mark": {"type": "line", "interpolate": "step-after", "color": "#ff0000", "strokeWidth": 3, "strokeDash": [6, 5]},
              "encoding": {
                "x": {"field": "pt", "type": "quantitative",
                  "axis": {"orient": "top", "title": null, "labels": false,
                    "values": [0,0.005,0.01,0.015,0.02,0.025,0.03,0.035,0.04,0.045,0.05,0.055,0.06,0.065,0.07,0.075,0.08,0.085,0.09,0.095,0.1,0.105,0.11,0.115,0.12,0.125,0.13,0.135,0.14,0.145,0.15,0.155,0.16,0.165,0.17,0.175,0.18,0.185,0.19,0.195,0.2],
                    "tickSize": {"condition": {"test": "abs(datum.value*50-round(datum.value*50))<0.001", "value": -12}, "value": -6}}},
                "y": {"field": "f_fake", "type": "quantitative",
                  "axis": {"orient": "right", "title": null, "labels": false,
                    "values": [1e-5,2e-5,3e-5,4e-5,5e-5,6e-5,7e-5,8e-5,9e-5,1e-4,2e-4,3e-4,4e-4,5e-4,6e-4,7e-4,8e-4,9e-4,0.001,0.002,0.003,0.004,0.005,0.006,0.007,0.008,0.009,0.01,0.02,0.03,0.04,0.05,0.06,0.07,0.08,0.09,0.1],
                    "tickSize": {"condition": {"test": "abs(log(datum.value)/LN10-round(log(datum.value)/LN10))<0.001", "value": -12}, "value": -6}}}
              }
            },
            {
              "data": {"name": "normTrue"},
              "mark": {"type": "line", "interpolate": "step-after", "color": "#0000ff", "strokeWidth": 3},
              "encoding": {
                "x": {"field": "pt", "type": "quantitative", "axis": null},
                "y": {"field": "f_true", "type": "quantitative", "axis": null}
              }
            }
          ]
        },
        {
          "data": {"name": "entries"},
          "layer": [
            {
              "mark": {"type": "rule", "strokeWidth": 3},
              "encoding": {
                "x": {"datum": 0.835, "type": "quantitative", "scale": {"domain": [0, 1]}, "axis": null},
                "x2": {"datum": 0.891},
                "y": {"field": "idx", "type": "quantitative", "scale": {"domain": [-0.554, 10.504], "reverse": true}, "axis": null},
                "color": {"field": "series", "type": "nominal", "scale": {"domain": ["All", "Fake", "True"], "range": ["#000000", "#ff0000", "#0000ff"]}, "legend": null},
                "strokeDash": {"field": "series", "type": "nominal", "scale": {"domain": ["All", "Fake", "True"], "range": [[1, 0], [6, 5], [1, 0]]}, "legend": null}
              }
            },
            {
              "mark": {"type": "text", "align": "left", "baseline": "middle", "fontSize": 22},
              "encoding": {
                "x": {"datum": 0.9, "type": "quantitative", "scale": {"domain": [0, 1]}, "axis": null},
                "y": {"field": "idx", "type": "quantitative", "scale": {"domain": [-0.554, 10.504], "reverse": true}, "axis": null},
                "text": {"field": "series"}
              }
            }
          ]
        },
        {
          "data": {"values": [{}]},
          "layer": [
            {
              "mark": {"type": "text", "text": "1st Daughters of D⁰ Mesons Transverse Momentum Uncertainty", "fontSize": 11, "fontWeight": "bold", "align": "center", "baseline": "middle"},
              "encoding": {
                "x": {"datum": 0.4452, "type": "quantitative", "scale": {"domain": [0, 1]}, "axis": null},
                "y": {"datum": 1.0706, "type": "quantitative", "scale": {"domain": [0, 1]}, "axis": null}
              }
            },
            {
              "mark": {"type": "text", "text": "p", "fontSize": 18, "align": "right", "baseline": "middle"},
              "encoding": {
                "x": {"datum": 0.63, "type": "quantitative", "scale": {"domain": [0, 1]}, "axis": null},
                "y": {"datum": -0.0775, "type": "quantitative", "scale": {"domain": [0, 1]}, "axis": null}
              }
            },
            {
              "mark": {"type": "text", "text": "T", "fontSize": 12.5, "align": "left", "baseline": "middle"},
              "encoding": {
                "x": {"datum": 0.63, "type": "quantitative", "scale": {"domain": [0, 1]}, "axis": null},
                "y": {"datum": -0.0854, "type": "quantitative", "scale": {"domain": [0, 1]}, "axis": null}
              }
            },
            {
              "mark": {"type": "text", "text": "Uncertainty (GeV/c)", "fontSize": 18, "align": "right", "baseline": "middle"},
              "encoding": {
                "x": {"datum": 1.0128, "type": "quantitative", "scale": {"domain": [0, 1]}, "axis": null},
                "y": {"datum": -0.0775, "type": "quantitative", "scale": {"domain": [0, 1]}, "axis": null}
              }
            }
          ]
        }
      ]
    }
  ]
}
